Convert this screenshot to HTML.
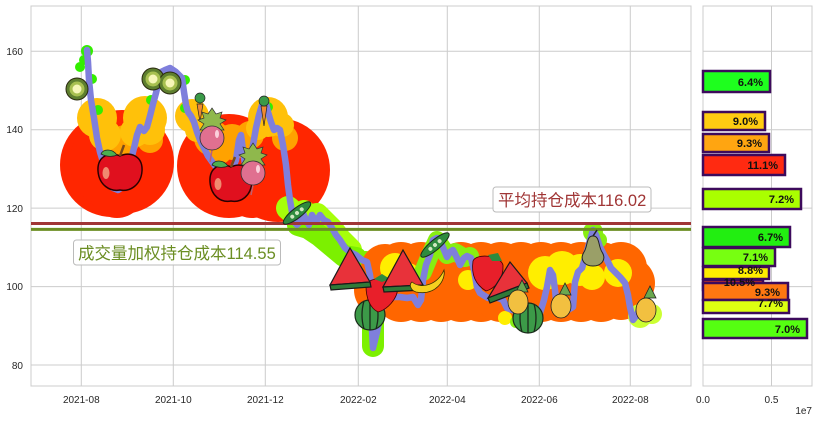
<!DOCTYPE html>
<html><head><meta charset="utf-8"><style>
html,body{margin:0;padding:0;background:#fff;}
svg{display:block;}
text{font-family:"Liberation Sans","Noto Sans CJK SC",sans-serif;}
</style></head><body>
<svg width="819" height="422" viewBox="0 0 819 422" xmlns="http://www.w3.org/2000/svg">
<rect width="819" height="422" fill="#fff"/>
<!-- main axes grid -->
<g stroke="#cccccc" stroke-width="1">
<line x1="31" y1="51.3" x2="691" y2="51.3"/><line x1="31" y1="129.7" x2="691" y2="129.7"/>
<line x1="31" y1="208.1" x2="691" y2="208.1"/><line x1="31" y1="286.6" x2="691" y2="286.6"/>
<line x1="31" y1="365" x2="691" y2="365"/>
<line x1="81.3" y1="6" x2="81.3" y2="386"/><line x1="173.3" y1="6" x2="173.3" y2="386"/>
<line x1="265.3" y1="6" x2="265.3" y2="386"/><line x1="358.3" y1="6" x2="358.3" y2="386"/>
<line x1="447.3" y1="6" x2="447.3" y2="386"/><line x1="539.3" y1="6" x2="539.3" y2="386"/>
<line x1="630.3" y1="6" x2="630.3" y2="386"/>
<rect x="31" y="6" width="660" height="380" fill="none"/>
</g>
<!-- right axes grid -->
<g stroke="#cccccc" stroke-width="1">
<line x1="703" y1="51.3" x2="812" y2="51.3"/><line x1="703" y1="129.7" x2="812" y2="129.7"/>
<line x1="703" y1="208.1" x2="812" y2="208.1"/><line x1="703" y1="286.6" x2="812" y2="286.6"/>
<line x1="703" y1="365" x2="812" y2="365"/>
<line x1="771.5" y1="6" x2="771.5" y2="386"/>
<rect x="703" y="6" width="109" height="380" fill="none"/>
</g>

<!-- group 1 & 2 red blobs -->
<g fill="#ff2600">
<circle cx="112" cy="165" r="52"/><circle cx="122" cy="162" r="52"/><circle cx="117" cy="190" r="28"/>
<circle cx="229" cy="166" r="52"/><circle cx="278" cy="170" r="52"/><circle cx="252" cy="190" r="28"/>
</g>
<g fill="#ffa200">
<circle cx="125" cy="140" r="15"/><circle cx="150" cy="140" r="13"/><circle cx="112" cy="148" r="10"/>
<circle cx="212" cy="138" r="18"/><circle cx="232" cy="142" r="18"/><circle cx="220" cy="152" r="12"/>
<circle cx="250" cy="135" r="14"/><circle cx="285" cy="138" r="13"/>
</g>
<g fill="#ffc10a">
<circle cx="97" cy="118" r="20"/><circle cx="105" cy="135" r="16"/>
<circle cx="145" cy="118" r="22"/><circle cx="135" cy="132" r="15"/><circle cx="150" cy="130" r="15"/>
<circle cx="192" cy="116" r="17"/><circle cx="197" cy="130" r="12"/>
<circle cx="268" cy="117" r="20"/><circle cx="282" cy="125" r="12"/><circle cx="258" cy="128" r="12"/>
</g>
<g fill="#33ee00">
<circle cx="87" cy="51" r="6"/><circle cx="84" cy="60" r="5"/><circle cx="80" cy="67" r="5"/><circle cx="92" cy="79" r="5"/>
<circle cx="98" cy="110" r="5"/><circle cx="151" cy="100" r="5"/><circle cx="185" cy="80" r="5"/><circle cx="185" cy="108" r="5"/>
<circle cx="264" cy="104" r="5"/><circle cx="268" cy="107" r="5"/>
</g>

<!-- region 3 lime bands -->
<polyline fill="none" stroke="#a6ff0a" stroke-width="24" stroke-linecap="round" stroke-linejoin="round"
 points="288,208 297,216 304,212 310,220 317,215 324,222 332,230 340,240 350,250"/>
<polyline fill="none" stroke="#7cf000" stroke-width="22" stroke-linecap="round" stroke-linejoin="round"
 points="298,225 308,228 320,236 332,246 344,256 356,258"/>
<polyline fill="none" stroke="#7cf000" stroke-width="22" stroke-linecap="round" stroke-linejoin="round"
 points="366,262 371,290 373,320 373,346"/>

<!-- region 4 orange band -->
<g fill="#ff6600">
<circle cx="380" cy="290" r="26"/><circle cx="385" cy="268" r="24"/>
<circle cx="401" cy="268" r="26"/><circle cx="421" cy="268" r="26"/><circle cx="441" cy="268" r="26"/>
<circle cx="461" cy="268" r="26"/><circle cx="481" cy="268" r="26"/><circle cx="501" cy="268" r="26"/>
<circle cx="521" cy="268" r="26"/><circle cx="541" cy="268" r="26"/><circle cx="561" cy="268" r="26"/>
<circle cx="581" cy="268" r="26"/><circle cx="601" cy="268" r="26"/><circle cx="621" cy="268" r="26"/>
<circle cx="629" cy="283" r="26"/>
<circle cx="401" cy="296" r="26"/><circle cx="421" cy="296" r="26"/><circle cx="441" cy="296" r="26"/>
<circle cx="461" cy="296" r="26"/><circle cx="481" cy="296" r="26"/><circle cx="501" cy="296" r="26"/>
<circle cx="521" cy="296" r="26"/><circle cx="541" cy="296" r="26"/><circle cx="561" cy="296" r="26"/>
<circle cx="581" cy="296" r="26"/><circle cx="601" cy="296" r="26"/><circle cx="621" cy="296" r="24"/>
</g>
<g fill="#ffee00">
<circle cx="395" cy="268" r="15"/><circle cx="408" cy="276" r="13"/><circle cx="468" cy="280" r="10"/>
<circle cx="545" cy="273" r="17"/><circle cx="562" cy="268" r="17"/><circle cx="580" cy="270" r="16"/><circle cx="592" cy="277" r="13"/>
<circle cx="618" cy="273" r="14"/><circle cx="505" cy="318" r="7"/>
</g>
<polyline fill="none" stroke="#88ee11" stroke-width="18" stroke-linecap="round" stroke-linejoin="round"
 points="423,272 430,255 437,240 447,255 455,252 465,258 470,256"/>
<g fill="#88ee11">
<circle cx="593" cy="232" r="10"/><circle cx="599" cy="240" r="8"/><circle cx="516" cy="322" r="6"/>
</g>
<g fill="#ccff33"><circle cx="640" cy="316" r="12"/><circle cx="652" cy="314" r="10"/></g>

<!-- price line -->
<polyline fill="none" stroke="#7f7fdc" stroke-width="6.5" stroke-linejoin="round" stroke-linecap="round"
 points="87,50 88,62 89,80 91,100 94,118 97,138 100,152 104,165 108,178 113,188 118,190 124,186 128,175 131,160 134,148 137,135 140,127 144,131 147,127 150,116 153,104 156,93 159,80 161,72 165,70 170,68 176,72 182,78 184,92 186,105 188,112 191,116 194,122 197,132 200,140 204,148 208,156 213,163 218,170 224,178 230,175 236,160 239,140 241,135 243,150 245,165 250,165 253,145 256,128 259,115 262,105 265,100 268,112 271,122 274,130 277,128 280,130 283,145 286,165 288,185 290,200 292,212 294,222 297,225 300,222 303,213 306,220 309,225 312,215 316,222 320,215 324,220 328,222 332,228 336,235 340,240 345,248 350,252 356,255 362,260 367,262 370,275 372,290 373,310 372,330 373,348 377,332 380,318 383,305 388,300 394,297 400,297 407,298 413,297 418,305 421,300 423,280 426,265 430,255 433,240 437,238 440,240 444,250 447,257 450,252 453,250 457,258 460,265 464,258 467,256 471,258 474,270 477,287 480,293 488,298 495,297 503,300 507,308 512,310 520,312 530,313 540,313 544,300 547,287 550,270 553,275 555,290 557,310 563,310 568,310 573,307 575,282 578,272 582,268 586,255 590,240 593,230 596,235 600,247 604,255 607,260 611,268 615,272 620,277 625,283 628,295 630,307 633,320 637,315 640,307"/>

<!-- horizontal cost lines -->
<line x1="31" y1="223.5" x2="691" y2="223.5" stroke="#a03535" stroke-width="3"/>
<line x1="31" y1="229.4" x2="691" y2="229.4" stroke="#6b8e23" stroke-width="3"/>

<!-- fruits -->
<g stroke="#2a2a10" stroke-width="1">
<circle cx="77" cy="89" r="11" fill="#5e7f2e"/><circle cx="153" cy="79" r="11" fill="#5e7f2e"/><circle cx="170" cy="83" r="11" fill="#5e7f2e"/>
</g>
<g fill="#a8c050"><circle cx="77" cy="89" r="7.5"/><circle cx="153" cy="79" r="7.5"/><circle cx="170" cy="83" r="7.5"/></g>
<g fill="#f7f7b8"><circle cx="77" cy="89" r="4.5"/><circle cx="153" cy="79" r="4.5"/><circle cx="170" cy="83" r="4.5"/></g>

<g transform="translate(120,173)">
<path d="M0,-17 C-10,-22 -23,-17 -22,-2 C-21,12 -10,19 0,17 C10,19 21,12 22,-2 C23,-17 10,-22 0,-17Z" fill="#e0101e" stroke="#2a0000" stroke-width="1.5"/>
<ellipse cx="-14" cy="0" rx="3.5" ry="6" fill="#f08a70"/>
<path d="M0,-17 L4,-28" stroke="#7a4a1a" stroke-width="2.5"/>
<path d="M-3,-18 C-8,-25 -17,-24 -19,-19 C-13,-16 -7,-16 -3,-18Z" fill="#4caf50" stroke="#222" stroke-width="0.8"/>
</g>
<g transform="translate(231,184)">
<path d="M0,-17 C-10,-22 -22,-17 -21,-2 C-20,12 -10,19 0,17 C10,19 20,12 21,-2 C22,-17 10,-22 0,-17Z" fill="#e0101e" stroke="#2a0000" stroke-width="1.5"/>
<ellipse cx="-13" cy="0" rx="3.5" ry="6" fill="#f08a70"/>
<path d="M0,-17 L4,-27" stroke="#7a4a1a" stroke-width="2.5"/>
<path d="M-3,-18 C-8,-25 -17,-24 -19,-19 C-13,-16 -7,-16 -3,-18Z" fill="#4caf50" stroke="#222" stroke-width="0.8"/>
</g>
<g stroke="#222" stroke-width="0.7">
<path d="M197,104 L203,104 L200,122Z" fill="#f08a30"/><circle cx="200" cy="98" r="5" fill="#3a9a48"/>
<path d="M261,106 L267,106 L264,126Z" fill="#f08a30"/><circle cx="264" cy="101" r="5" fill="#3a9a48"/>
</g>
<g transform="translate(212,130)">
<path d="M0,-22 L4,-16 L10,-18 L8,-12 L14,-10 L8,-6 L12,0 L-12,0 L-8,-6 L-14,-10 L-8,-12 L-10,-18 L-4,-16Z" fill="#8fb84c" stroke="#333" stroke-width="0.7"/>
<path d="M0,20 L-2,32" stroke="#c06070" stroke-width="1.5"/>
<circle cx="0" cy="8" r="12" fill="#e07090" stroke="#333" stroke-width="0.8"/>
<ellipse cx="5" cy="4" rx="2" ry="4" fill="#fbd0dc"/>
</g>
<g transform="translate(253,165)">
<path d="M0,-22 L4,-16 L10,-18 L8,-12 L14,-10 L8,-6 L12,0 L-12,0 L-8,-6 L-14,-10 L-8,-12 L-10,-18 L-4,-16Z" fill="#8fb84c" stroke="#333" stroke-width="0.7"/>
<path d="M0,20 L-2,30" stroke="#c06070" stroke-width="1.5"/>
<circle cx="0" cy="8" r="12" fill="#e07090" stroke="#333" stroke-width="0.8"/>
<ellipse cx="5" cy="4" rx="2" ry="4" fill="#fbd0dc"/>
</g>
<g transform="translate(297,213) rotate(-38)">
<ellipse cx="0" cy="0" rx="17" ry="5" fill="#2e8b3e" stroke="#1a2a1a" stroke-width="1"/>
<circle cx="-6" cy="0" r="2" fill="#cfe8c0"/><circle cx="0" cy="0" r="2" fill="#cfe8c0"/><circle cx="6" cy="0" r="2" fill="#cfe8c0"/>
</g>
<g transform="translate(435,245) rotate(-40)">
<ellipse cx="0" cy="0" rx="18" ry="5" fill="#2e8b3e" stroke="#1a2a1a" stroke-width="1"/>
<circle cx="-6" cy="0" r="2" fill="#cfe8c0"/><circle cx="0" cy="0" r="2" fill="#cfe8c0"/><circle cx="6" cy="0" r="2" fill="#cfe8c0"/>
</g>
<g stroke="#1a2a1a">
<circle cx="370" cy="315" r="15" fill="#3c9a48" stroke-width="1.2"/>
<path d="M364,301 Q360,315 364,329 M370,300 L370,330 M376,301 Q380,315 376,329" fill="none" stroke-width="1.3"/>
<circle cx="528" cy="318" r="15" fill="#3c9a48" stroke-width="1.2"/>
<path d="M522,304 Q518,318 522,332 M528,303 L528,333 M534,304 Q538,318 534,332" fill="none" stroke-width="1.3"/>
</g>
<g transform="translate(382,294)">
<path d="M-16,-8 C-16,-18 16,-18 16,-8 C16,6 4,16 -4,18 C-12,14 -16,4 -16,-8Z" fill="#e81f2a" stroke="#400" stroke-width="0.8"/>
<path d="M-8,-15 L0,-20 L8,-15 L0,-12Z" fill="#2e8b3e"/>
</g>
<g transform="translate(488,273)">
<path d="M-15,-12 C-12,-20 12,-18 15,-8 C16,6 6,16 -2,18 C-12,12 -17,2 -15,-12Z" fill="#e81f2a" stroke="#400" stroke-width="0.8"/>
<path d="M0,-18 L10,-20 L14,-12 L4,-12Z" fill="#2e8b3e"/>
</g>
<g stroke="#1a1a1a" stroke-width="1.2">
<path d="M350,248 L370,282 L330,285Z" fill="#e8323a"/>
<path d="M330,285 L370,282 L371,287 L331,290Z" fill="#2f7a38"/>
<path d="M403,250 L423,285 L383,287Z" fill="#e8323a"/>
<path d="M383,287 L423,285 L424,290 L384,292Z" fill="#2f7a38"/>
<path d="M510,262 L527,283 L488,298Z" fill="#e8323a"/>
<path d="M488,298 L527,283 L529,288 L490,303Z" fill="#2f7a38"/>
</g>
<path d="M412,282 C422,290 438,284 444,270 C446,280 436,296 416,292 C410,290 409,284 412,282Z" fill="#f5d020" stroke="#3a3000" stroke-width="0.8"/>
<g stroke="#222" stroke-width="0.8">
<path d="M516,292 L522,280 L528,292Z" fill="#6aa84f"/><ellipse cx="518" cy="302" rx="10" ry="12" fill="#f2c040"/>
<path d="M559,295 L565,283 L571,295Z" fill="#6aa84f"/><ellipse cx="561" cy="306" rx="10" ry="12" fill="#f2c040"/>
<path d="M644,298 L650,286 L656,298Z" fill="#6aa84f"/><ellipse cx="646" cy="310" rx="10" ry="12" fill="#f2c040"/>
</g>
<path d="M593,236 C586,236 588,246 584,252 C579,260 585,266 593,266 C601,266 607,260 602,252 C598,246 600,236 593,236Z" fill="#9a9f68" stroke="#222" stroke-width="1"/>
<path d="M593,236 L597,230" stroke="#222" stroke-width="1.5"/>

<!-- label boxes -->
<rect x="493" y="187" width="158" height="25" rx="3" fill="#fff" fill-opacity="0.9" stroke="#bbbbbb" stroke-width="1"/>
<text x="498" y="206" font-size="16.5" fill="#a03535">平均持仓成本116.02</text>
<rect x="73.5" y="240" width="207" height="25" rx="3" fill="#fff" fill-opacity="0.9" stroke="#bbbbbb" stroke-width="1"/>
<text x="78" y="259" font-size="16.5" fill="#6b8e23">成交量加权持仓成本114.55</text>

<!-- tick labels -->
<g font-size="10" fill="#262626">
<text x="23" y="55" text-anchor="end">160</text>
<text x="23" y="133" text-anchor="end">140</text>
<text x="23" y="212" text-anchor="end">120</text>
<text x="23" y="290" text-anchor="end">100</text>
<text x="23" y="369" text-anchor="end">80</text>
<text x="81.3" y="403" text-anchor="middle">2021-08</text>
<text x="173.3" y="403" text-anchor="middle">2021-10</text>
<text x="265.3" y="403" text-anchor="middle">2021-12</text>
<text x="358.3" y="403" text-anchor="middle">2022-02</text>
<text x="447.3" y="403" text-anchor="middle">2022-04</text>
<text x="539.3" y="403" text-anchor="middle">2022-06</text>
<text x="630.3" y="403" text-anchor="middle">2022-08</text>
<text x="703" y="403" text-anchor="middle">0.0</text>
<text x="771.5" y="403" text-anchor="middle">0.5</text>
<text x="812" y="414" text-anchor="end">1e7</text>
</g>

<!-- bars -->
<g stroke="#3d0a5c" stroke-width="2.5">
<rect x="703" y="71" width="67" height="21" fill="#1eff1e"/>
<rect x="703" y="112" width="62" height="18" fill="#ffcc11"/>
<rect x="703" y="134" width="66" height="18" fill="#ffa511"/>
<rect x="703" y="155" width="82" height="20" fill="#ff2a11"/>
<rect x="703" y="189" width="98" height="20" fill="#aaff00"/>
<rect x="703" y="227" width="87" height="20" fill="#22ee11"/>
<rect x="703" y="248" width="72" height="18" fill="#77ff11"/>
<rect x="703" y="267" width="66" height="12" fill="#ffee00"/>
<rect x="703" y="280" width="60" height="10" fill="#ff4411"/>
<rect x="703" y="283" width="85" height="17" fill="#ff7711"/>
<rect x="703" y="300" width="86" height="13" fill="#ddff11"/>
<rect x="703" y="319" width="104" height="19" fill="#55ff11"/>
</g>
<g font-size="11" font-weight="bold" fill="#111" text-anchor="end">
<text x="763" y="86">6.4%</text>
<text x="758" y="125">9.0%</text>
<text x="762" y="147">9.3%</text>
<text x="778" y="169">11.1%</text>
<text x="794" y="203">7.2%</text>
<text x="783" y="241">6.7%</text>
<text x="768" y="261">7.1%</text>
<text x="763" y="274">8.8%</text>
<text x="755" y="286">10.5%</text>
<text x="780" y="296">9.3%</text>
<text x="783" y="307">7.7%</text>
<text x="800" y="333">7.0%</text>
</g>
</svg>
</body></html>
